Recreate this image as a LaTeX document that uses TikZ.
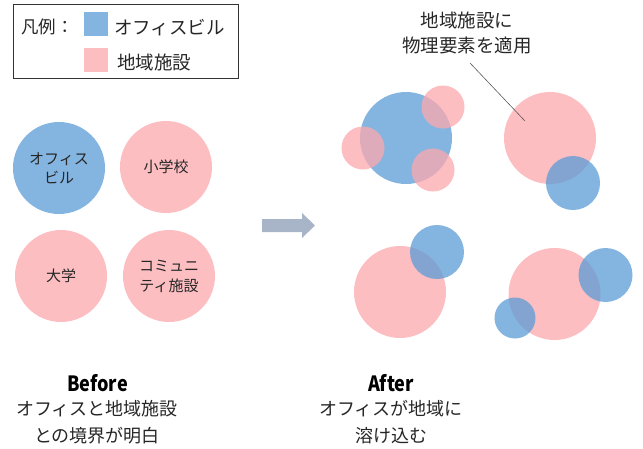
\documentclass[tikz,border=0pt]{standalone}
\usepackage{fontspec}
\setmainfont{Noto Sans CJK JP}
\begin{document}
\begin{tikzpicture}[x=1pt,y=-1pt,
  blueC/.style={circle,fill=officeblue,fill opacity=0.75,draw=none,inner sep=0pt},
  pinkC/.style={circle,fill=facpink,fill opacity=0.75,draw=none,inner sep=0pt},
  lbl/.style={text=txt,font=\fontsize{15}{19}\selectfont,align=center,text opacity=1},
  lgtxt/.style={text=txt,font=\fontsize{18.5}{20}\selectfont,anchor=west,inner sep=0pt},
  captxt/.style={text=txt,font=\fontsize{18}{27}\selectfont,align=center},
  headtxt/.style={text=black,font=\fontsize{21}{22}\selectfont\bfseries},
]
\definecolor{officeblue}{RGB}{91,155,213}
\definecolor{facpink}{RGB}{253,168,174}
\definecolor{txt}{RGB}{38,38,38}
\definecolor{arrowc}{RGB}{168,180,200}
\useasboundingbox (0,0) rectangle (643,448);

% legend
\node[draw=black!80,line width=0.8pt,minimum width=225pt,minimum height=74pt,inner sep=0pt] (legend) at (126,41) {};
\node[lgtxt,font=\fontsize{17.5}{20}\selectfont] (lgtitle) at (21,27) {凡例：};
\node[fill=officeblue,fill opacity=0.75,minimum size=24pt,inner sep=0pt] (lgb) at (96,24) {};
\node[fill=facpink,fill opacity=0.75,minimum size=24pt,inner sep=0pt] (lgp) at (96,60) {};
\node[lgtxt] (lgbt) at (114,28) {オフィスビル};
\node[lgtxt] (lgpt) at (117,62) {地域施設};

% before
\node[blueC,minimum size=92pt] (b1) at (59,168) {};
\node[lbl] at (b1) {オフィス\\ビル};
\node[pinkC,minimum size=92pt] (b2) at (166,167) {};
\node[lbl] at (b2) {小学校};
\node[pinkC,minimum size=92pt] (b3) at (61,276) {};
\node[lbl] at (b3) {大学};
\node[pinkC,minimum size=92pt] (b4) at (169,276) {};
\node[lbl,font=\fontsize{15}{20}\selectfont] at (b4) {コミュニ\\ティ施設};

% arrow
\fill[arrowc] (262,219) -- (302,219) -- (302,213) -- (315,225.5) -- (302,238) -- (302,232) -- (262,232) -- cycle;

% after
\node[blueC,minimum size=92pt] (a1) at (406,138) {};
\node[pinkC,minimum size=43pt] (a1p1) at (443,107) {};
\node[pinkC,minimum size=43pt] (a1p2) at (363,148) {};
\node[pinkC,minimum size=43pt] (a1p3) at (433,170) {};

\node[pinkC,minimum size=92pt] (a2) at (550,138) {};
\node[blueC,minimum size=54pt] (a2b) at (573,183) {};

\node[pinkC,minimum size=92pt] (a3) at (400,292) {};
\node[blueC,minimum size=54pt] (a3b) at (437,252) {};

\node[pinkC,minimum size=92pt] (a4) at (554.5,294) {};
\node[blueC,minimum size=54pt] (a4b) at (605.5,275) {};
\node[blueC,minimum size=41pt] (a4c) at (515,318) {};

\node[text=txt,font=\fontsize{18.5}{25}\selectfont,align=center] (ann) at (467,33) {地域施設に\\物理要素を適用};
\coordinate (annEnd) at (525,121);
\draw[black!65,line width=0.6pt] (470,63) -- (annEnd);

% captions
\node[headtxt] (bh) at (97.5,383) {\scalebox{0.86}[1]{Before}};
\node[captxt] (bt) at (97,422) {オフィスと地域施設\\との境界が明白};
\node[headtxt] (ah) at (391,383) {\scalebox{0.86}[1]{After}};
\node[captxt] (at) at (391,422) {オフィスが地域に\\溶け込む};
\end{tikzpicture}
\end{document}
